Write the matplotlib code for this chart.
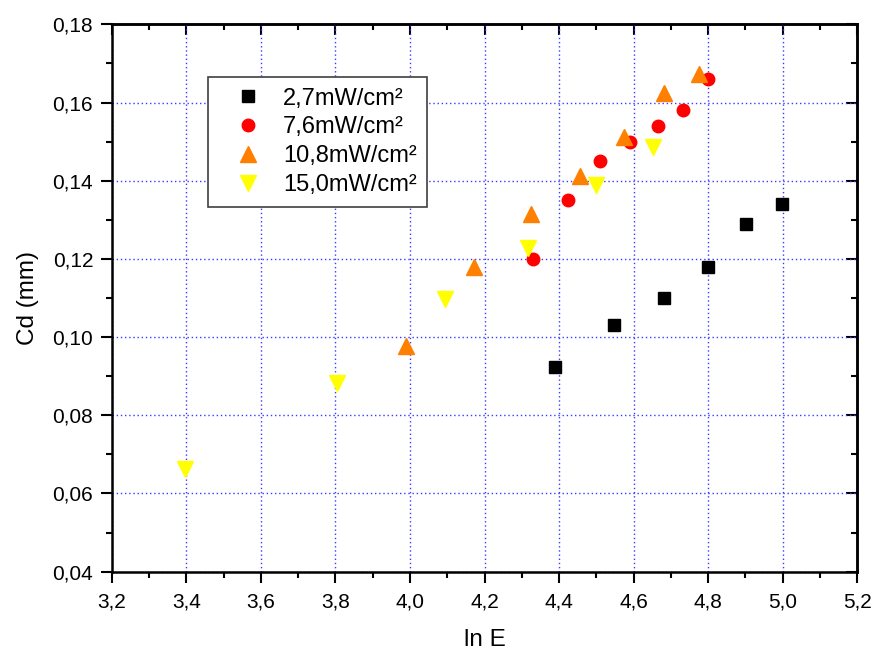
import matplotlib
matplotlib.use('Agg')
import matplotlib.pyplot as plt
from matplotlib.ticker import MultipleLocator, FuncFormatter

plt.rcParams['font.family'] = ['Liberation Sans', 'DejaVu Sans']

# 2,7 mW/cm²
x_27 = [4.39, 4.547, 4.681, 4.799, 4.903, 4.999]
y_27 = [0.0924, 0.103, 0.110, 0.118, 0.129, 0.134]

# 7,6 mW/cm²
x_76 = [4.329, 4.425, 4.511, 4.591, 4.666, 4.734, 4.799]
y_76 = [0.120, 0.135, 0.145, 0.150, 0.154, 0.158, 0.166]

# 10,8 mW/cm²
x_108 = [3.988, 4.171, 4.324, 4.456, 4.574, 4.681, 4.776]
y_108 = [0.0977, 0.118, 0.1314, 0.1413, 0.1513, 0.1624, 0.1673]

# 15,0 mW/cm²
x_150 = [3.396, 3.805, 4.093, 4.316, 4.499, 4.653]
y_150 = [0.0663, 0.0882, 0.1097, 0.1227, 0.1389, 0.1487]

labels = ['2,7mW/cm²', '7,6mW/cm²', '10,8mW/cm²', '15,0mW/cm²']

fig = plt.figure(figsize=(8.74, 6.52), dpi=100)
ax = fig.add_axes([0.1281, 0.1232, 0.8525, 0.8395])

ax.plot(x_27, y_27, 's', color='black', ms=8.5, mec='black', label=labels[0])
ax.plot(x_76, y_76, 'o', color='#ff0000', ms=9, mec='#ff0000', label=labels[1])
ax.plot(x_108, y_108, '^', color='#ff7f00', ms=11, mec='#ff7f00', label=labels[2])
ax.plot(x_150, y_150, 'v', color='#ffff00', ms=11, mec='#ffff00', label=labels[3])

ax.set_xlim(3.2, 5.2)
ax.set_ylim(0.04, 0.18)
ax.xaxis.set_major_locator(MultipleLocator(0.2))
ax.xaxis.set_minor_locator(MultipleLocator(0.1))
ax.yaxis.set_major_locator(MultipleLocator(0.02))
ax.yaxis.set_minor_locator(MultipleLocator(0.01))
ax.xaxis.set_major_formatter(FuncFormatter(lambda v, p: f'{v:.1f}'.replace('.', ',')))
ax.yaxis.set_major_formatter(FuncFormatter(lambda v, p: f'{v:.2f}'.replace('.', ',')))

ax.grid(True, which='major', color='#3a3aff', linestyle=(0, (1, 2)), linewidth=1.0)
ax.set_axisbelow(True)

for s in ax.spines.values():
    s.set_linewidth(1.8)

ax.tick_params(which='major', direction='out', length=8, width=1.5, labelsize=15)
ax.tick_params(which='minor', direction='out', length=4, width=1.5)
ax.tick_params(axis='x', which='major', pad=7)
ax.tick_params(axis='y', which='major', pad=5.5)

# inward ticks on top and right, like Origin
top = ax.secondary_xaxis('top')
top.xaxis.set_major_locator(MultipleLocator(0.2))
top.xaxis.set_minor_locator(MultipleLocator(0.1))
top.tick_params(which='major', direction='in', length=8, width=1.5, labeltop=False)
top.tick_params(which='minor', direction='in', length=4, width=1.5)
top.spines['top'].set_linewidth(1.8)
right = ax.secondary_yaxis('right')
right.yaxis.set_major_locator(MultipleLocator(0.02))
right.yaxis.set_minor_locator(MultipleLocator(0.01))
right.tick_params(which='major', direction='in', length=8, width=1.5, labelright=False)
right.tick_params(which='minor', direction='in', length=4, width=1.5)
right.spines['right'].set_linewidth(1.8)

ax.set_xlabel('ln E', fontsize=17.5, labelpad=12.5)
ax.set_ylabel('Cd (mm)', fontsize=17.5, labelpad=10)

leg = ax.legend(loc='upper left', bbox_to_anchor=(208 / 874, 1 - 77 / 652),
                bbox_transform=fig.transFigure, fontsize=17, fancybox=False,
                framealpha=1, edgecolor='#404040', borderpad=0.45,
                labelspacing=0.29, handlelength=2.48, handletextpad=0.24,
                borderaxespad=0)
leg.get_frame().set_linewidth(1.2)

fig.savefig('out.png', dpi=100)
